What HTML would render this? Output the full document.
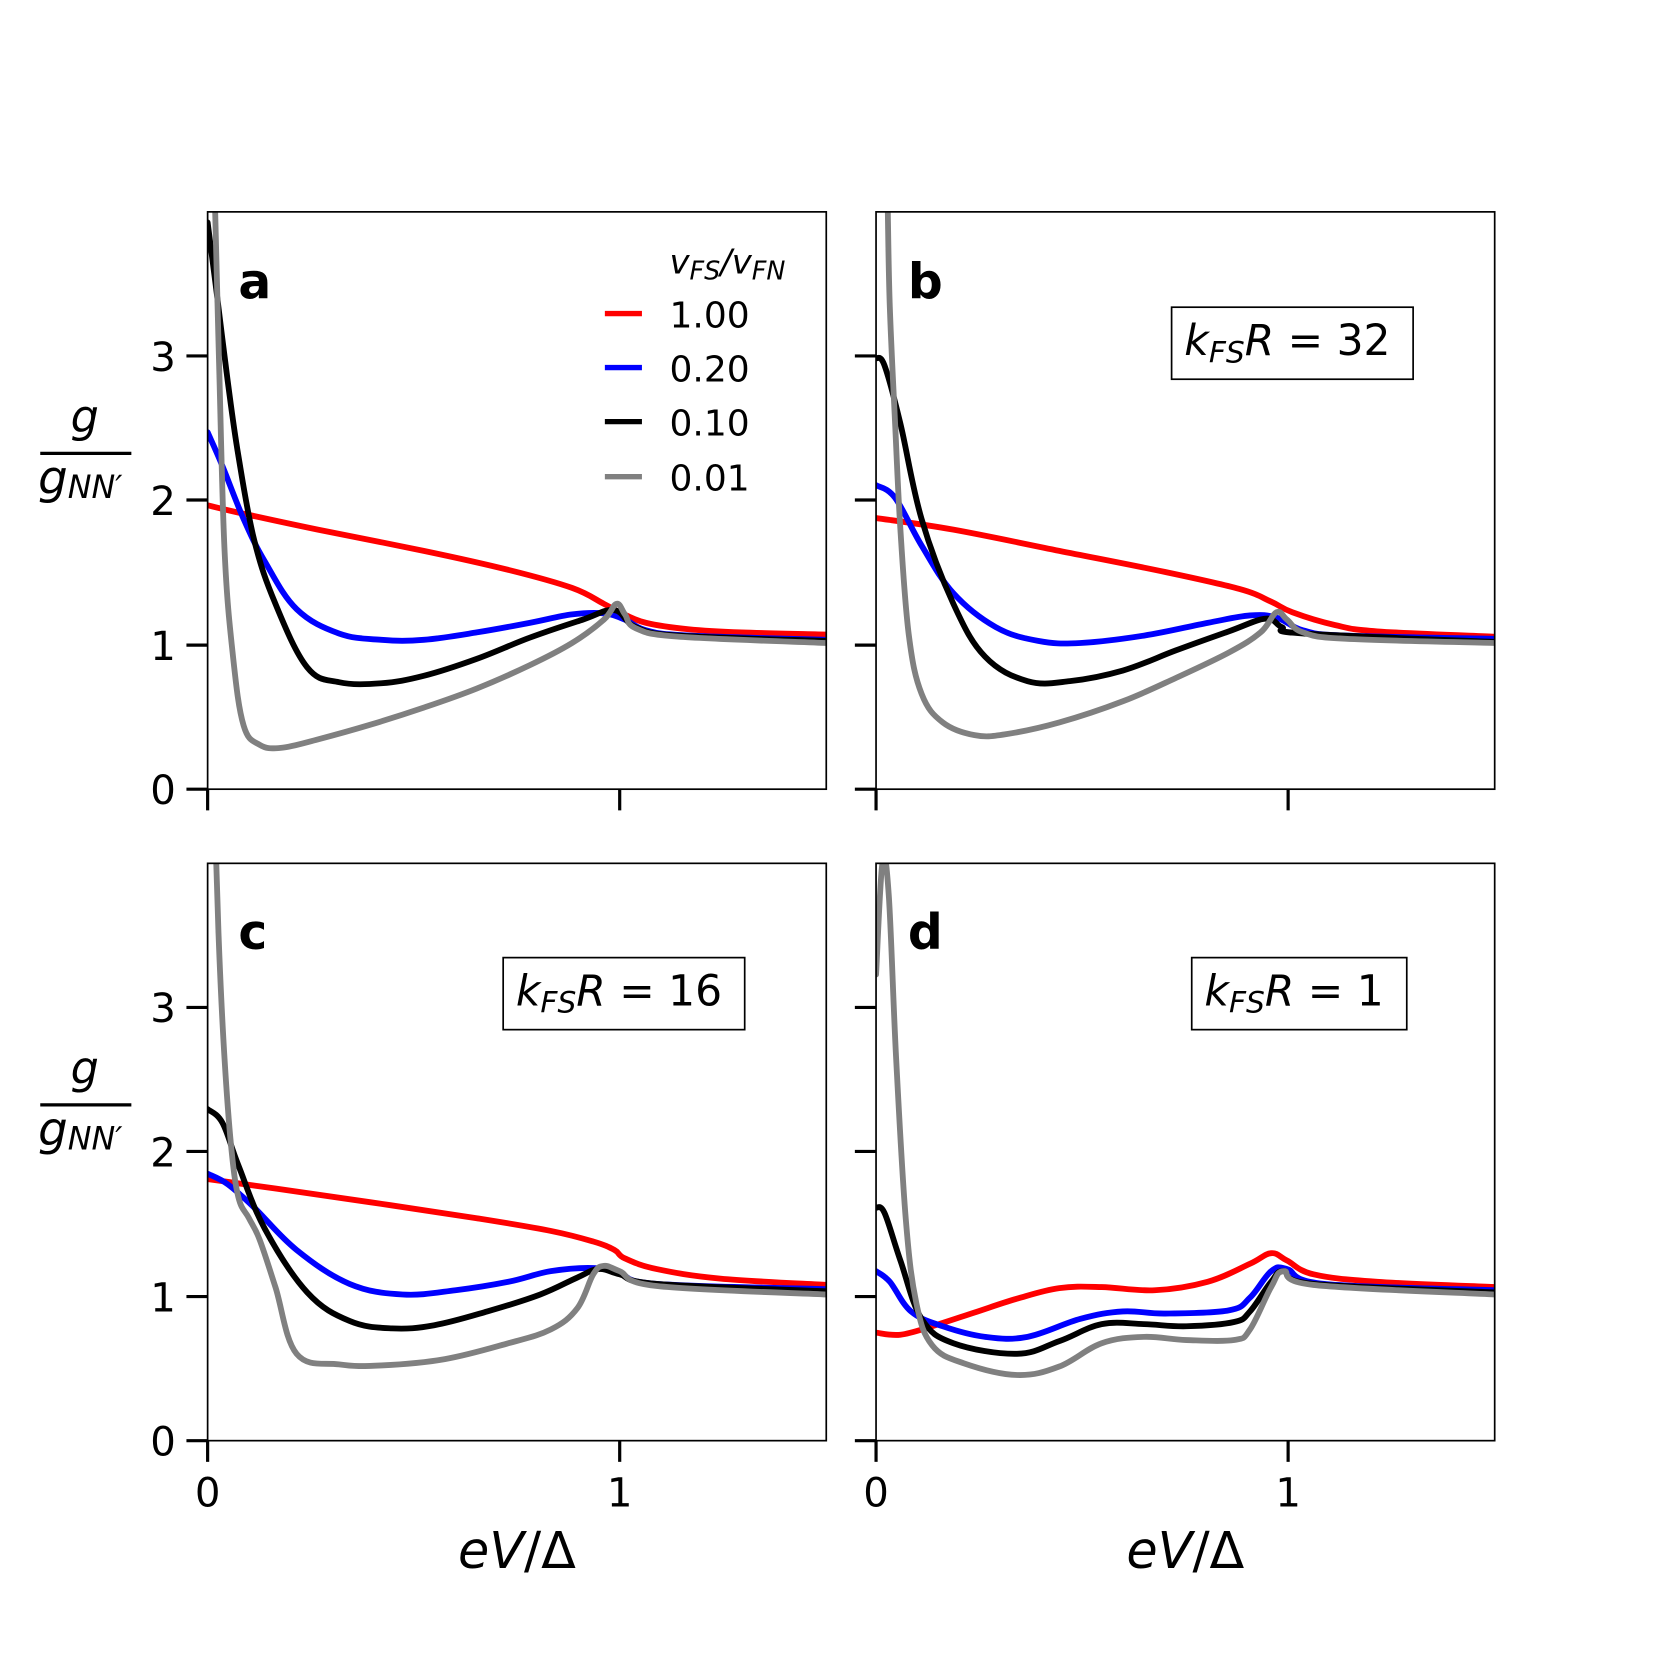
<!DOCTYPE html>
<html><head><meta charset="utf-8"><style>
html,body{margin:0;padding:0;background:#fff;}
svg{display:block;}
text{font-family:"DejaVu Sans","Liberation Sans",sans-serif;fill:#000;}
</style></head><body>
<svg width="1661" height="1661" viewBox="0 0 1568 1568" xmlns="http://www.w3.org/2000/svg">
<defs>
<clipPath id="ca"><rect x="196" y="200" width="584" height="545"/></clipPath>
<clipPath id="cb"><rect x="827" y="200" width="584" height="545"/></clipPath>
<clipPath id="cc"><rect x="196" y="815" width="584" height="545"/></clipPath>
<clipPath id="cd"><rect x="827" y="815" width="584" height="545"/></clipPath>
</defs>
<g fill="none" stroke-width="5.5" stroke-linejoin="round" stroke-linecap="round">
<g clip-path="url(#ca)">
<polyline stroke="#ff0000" points="196,477 230,485 300,500 400,520 480,538 540,555 570,570 585,578 610,588 650,594 700,597 780,599"/>
<polyline stroke="#0000ff" points="196,408 210,440 230,490 250,530 280,575 320,598 360,604 400,604 450,597 500,588 540,580 570,579 590,585 610,595 650,600 780,604"/>
<polyline stroke="#000000" points="196,210 205,280 215,360 225,430 240,510 260,570 290,630 320,644 360,645 400,638 450,622 500,602 550,585 580,576 600,592 640,600 780,605"/>
<polyline stroke="#808080" points="203,195 207,350 212,520 220,620 230,685 245,703 265,706 300,698 350,684 400,668 450,650 500,628 540,607 570,585 582,570 590,580 600,593 640,601 780,607"/>
</g>
<g clip-path="url(#cb)">
<polyline stroke="#ff0000" points="827,489 900,500 1000,520 1100,540 1170,556 1200,568 1220,578 1260,590 1300,596 1411,601"/>
<polyline stroke="#0000ff" points="827,458 845,470 870,515 900,560 940,592 980,605 1020,607 1080,600 1140,588 1180,581 1205,583 1230,595 1270,600 1411,603"/>
<polyline stroke="#000000" points="827,338 835,345 850,400 870,490 900,570 930,620 970,643 1010,643 1060,633 1110,614 1160,596 1195,584 1210,592 1230,598 1411,606"/>
<polyline stroke="#808080" points="838,195 840,290 845,400 850,500 858,600 870,655 890,682 920,694 950,693 1000,682 1060,662 1110,640 1160,616 1190,597 1205,578 1215,585 1230,597 1270,603 1411,607"/>
</g>
<g clip-path="url(#cc)">
<polyline stroke="#ff0000" points="196,1113 260,1122 350,1135 450,1150 520,1162 560,1172 580,1180 590,1188 620,1198 680,1207 780,1213"/>
<polyline stroke="#0000ff" points="196,1108 215,1118 240,1140 280,1180 330,1212 380,1222 430,1218 480,1210 520,1200 560,1197 585,1202 620,1212 780,1217"/>
<polyline stroke="#000000" points="196,1047 210,1060 225,1100 250,1160 290,1220 330,1247 370,1254 410,1251 460,1238 510,1222 545,1206 565,1198 585,1203 620,1212 780,1219"/>
<polyline stroke="#808080" points="204,810 207,900 212,1000 218,1080 225,1130 235,1150 245,1170 260,1215 280,1278 320,1288 360,1289 420,1283 480,1268 520,1255 545,1235 560,1203 570,1195 585,1200 620,1214 780,1222"/>
</g>
<g clip-path="url(#cd)">
<polyline stroke="#ff0000" points="827,1258 850,1260 880,1252 920,1239 960,1226 1000,1216 1040,1215 1090,1218 1140,1210 1180,1193 1200,1183 1215,1190 1240,1203 1300,1210 1411,1215"/>
<polyline stroke="#0000ff" points="827,1200 840,1210 860,1238 890,1252 930,1262 970,1262 1020,1245 1060,1238 1100,1240 1160,1237 1180,1225 1200,1200 1215,1198 1250,1212 1411,1218"/>
<polyline stroke="#000000" points="827,1140 835,1145 850,1190 870,1245 900,1268 960,1278 1000,1266 1040,1250 1080,1250 1120,1252 1165,1248 1180,1238 1200,1210 1212,1200 1240,1212 1411,1220"/>
<polyline stroke="#808080" points="827,920 833,815 839,845 846,1000 855,1150 865,1230 880,1270 910,1287 960,1298 1000,1290 1040,1268 1080,1262 1120,1265 1165,1265 1180,1255 1200,1215 1212,1200 1240,1213 1411,1222"/>
</g>
</g>
<g fill="none" stroke="#000" stroke-width="1.6">
<rect x="196" y="200" width="584" height="545"/>
<rect x="827" y="200" width="584" height="545"/>
<rect x="196" y="815" width="584" height="545"/>
<rect x="827" y="815" width="584" height="545"/>
</g>
<g stroke="#000" stroke-width="3">
<line x1="176" y1="745" x2="196" y2="745"/><line x1="176" y1="609" x2="196" y2="609"/><line x1="176" y1="472" x2="196" y2="472"/><line x1="176" y1="336" x2="196" y2="336"/>
<line x1="807" y1="745" x2="827" y2="745"/><line x1="807" y1="609" x2="827" y2="609"/><line x1="807" y1="472" x2="827" y2="472"/><line x1="807" y1="336" x2="827" y2="336"/>
<line x1="176" y1="1360" x2="196" y2="1360"/><line x1="176" y1="1224" x2="196" y2="1224"/><line x1="176" y1="1087" x2="196" y2="1087"/><line x1="176" y1="951" x2="196" y2="951"/>
<line x1="807" y1="1360" x2="827" y2="1360"/><line x1="807" y1="1224" x2="827" y2="1224"/><line x1="807" y1="1087" x2="827" y2="1087"/><line x1="807" y1="951" x2="827" y2="951"/>
<line x1="196" y1="745" x2="196" y2="765"/><line x1="585" y1="745" x2="585" y2="765"/>
<line x1="827" y1="745" x2="827" y2="765"/><line x1="1216" y1="745" x2="1216" y2="765"/>
<line x1="196" y1="1360" x2="196" y2="1380"/><line x1="585" y1="1360" x2="585" y2="1380"/>
<line x1="827" y1="1360" x2="827" y2="1380"/><line x1="1216" y1="1360" x2="1216" y2="1380"/>
</g>
<g font-size="38" text-anchor="end">
<text x="166" y="759">0</text><text x="166" y="623">1</text><text x="166" y="486">2</text><text x="166" y="350">3</text>
<text x="166" y="1374">0</text><text x="166" y="1238">1</text><text x="166" y="1101">2</text><text x="166" y="965">3</text>
</g>
<g font-size="38" text-anchor="middle">
<text x="196" y="1422">0</text><text x="585" y="1422">1</text>
<text x="827" y="1422">0</text><text x="1216" y="1422">1</text>
</g>
<g font-size="48" text-anchor="middle">
<text x="488" y="1480"><tspan font-style="italic">eV</tspan>/Δ</text><text x="1119" y="1480"><tspan font-style="italic">eV</tspan>/Δ</text>
</g>
<g font-style="italic">
<text x="80" y="408" font-size="42" text-anchor="middle">g</text>
<line x1="38" y1="428" x2="124" y2="428" stroke="#000" stroke-width="3"/>
<text x="36" y="466" font-size="44">g<tspan font-size="30" dy="4">NN′</tspan></text>
<text x="80" y="1023" font-size="42" text-anchor="middle">g</text>
<line x1="38" y1="1043" x2="124" y2="1043" stroke="#000" stroke-width="3"/>
<text x="36" y="1081" font-size="44">g<tspan font-size="30" dy="4">NN′</tspan></text>
</g>
<g font-size="46" font-weight="bold">
<text x="225" y="282">a</text><text x="857" y="282">b</text>
<text x="225" y="896">c</text><text x="857" y="896">d</text>
</g>
<text x="632" y="258" font-size="32" font-style="italic">v<tspan font-size="24" dy="6">FS</tspan><tspan dy="-6">/v</tspan><tspan font-size="24" dy="6">FN</tspan></text>
<g stroke-width="5">
<line x1="571" y1="296" x2="606" y2="296" stroke="#ff0000"/>
<line x1="571" y1="347" x2="606" y2="347" stroke="#0000ff"/>
<line x1="571" y1="398" x2="606" y2="398" stroke="#000"/>
<line x1="571" y1="450" x2="606" y2="450" stroke="#808080"/>
</g>
<g font-size="34">
<text x="632" y="309">1.00</text><text x="632" y="360">0.20</text>
<text x="632" y="411">0.10</text><text x="632" y="463">0.01</text>
</g>
<g fill="#fff" stroke="#000" stroke-width="1.6">
<rect x="1106" y="290" width="228" height="68"/>
<rect x="475" y="904" width="228" height="68"/>
<rect x="1125" y="904" width="203" height="68"/>
</g>
<g font-size="40" font-style="italic">
<text x="1118" y="335">k<tspan font-size="28" dy="7">FS</tspan><tspan dy="-7">R</tspan><tspan font-style="normal"> = 32</tspan></text>
<text x="487" y="949">k<tspan font-size="28" dy="7">FS</tspan><tspan dy="-7">R</tspan><tspan font-style="normal"> = 16</tspan></text>
<text x="1137" y="949">k<tspan font-size="28" dy="7">FS</tspan><tspan dy="-7">R</tspan><tspan font-style="normal"> = 1</tspan></text>
</g>
</svg>
<script>
document.querySelectorAll('polyline').forEach(function(pl){
  var pts=pl.getAttribute('points').trim().split(/\s+/).map(function(s){return s.split(',').map(Number);});
  if(pts.length<3)return;
  var d='M'+pts[0][0]+','+pts[0][1];
  for(var i=0;i<pts.length-1;i++){
    var p0=pts[i-1]||pts[i],p1=pts[i],p2=pts[i+1],p3=pts[i+2]||p2;
    var t=0.18;
    var c1x=p1[0]+(p2[0]-p0[0])*t,c1y=p1[1]+(p2[1]-p0[1])*t;
    var c2x=p2[0]-(p3[0]-p1[0])*t,c2y=p2[1]-(p3[1]-p1[1])*t;
    d+=' C'+c1x.toFixed(1)+','+c1y.toFixed(1)+' '+c2x.toFixed(1)+','+c2y.toFixed(1)+' '+p2[0]+','+p2[1];
  }
  var p=document.createElementNS('http://www.w3.org/2000/svg','path');
  p.setAttribute('d',d);p.setAttribute('stroke',pl.getAttribute('stroke'));
  pl.parentNode.replaceChild(p,pl);
});
</script>
</body></html>
